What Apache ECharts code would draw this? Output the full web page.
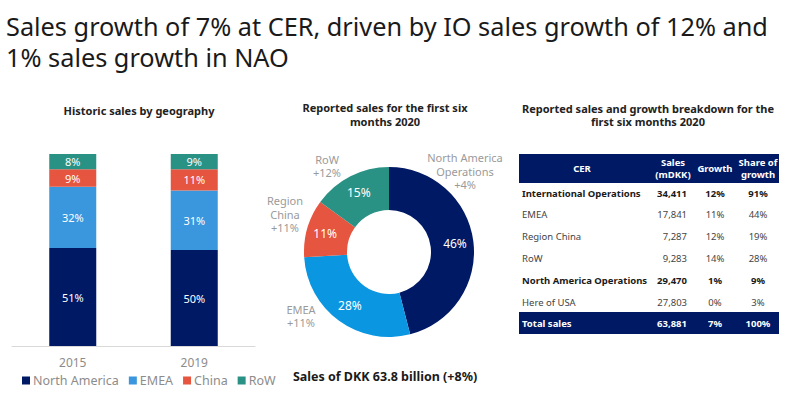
<!DOCTYPE html>
<html>
<head>
<meta charset="utf-8">
<script src="https://cdn.jsdelivr.net/npm/echarts@6/dist/echarts.min.js"></script>
<style>
  html, body { margin: 0; padding: 0; background: #fff; }
  #main { width: 800px; height: 398px; }
</style>
</head>
<body>
<div id="main"></div>
<script>
// historic sales (stacked bars)
var years = ['2015', '2019'];
var barNorthAmerica = [51, 50];
var barEmea = [32, 31];
var barChina = [9, 11];
var barRow = [8, 9];

// first six months 2020 (donut)
var pieNames = ['North America\nOperations', 'EMEA', 'Region\nChina', 'RoW'];
var pieShares = [46, 28, 11, 15];
var pieGrowth = [4, 11, 11, 12];

// breakdown table
var tableHeader = ['CER', 'Sales\n(mDKK)', 'Growth', 'Share of\ngrowth'];
var rowLabels = ['International Operations', 'EMEA', 'Region China', 'RoW',
  'North America Operations', 'Here of USA', 'Total sales'];
var rowSales = [34411, 17841, 7287, 9283, 29470, 27803, 63881];
var rowGrowth = [12, 11, 12, 14, 1, 0, 7];
var rowShare = [91, 44, 19, 28, 9, 3, 100];
var rowBold = [true, false, false, false, true, false, true];

var NAVY = '#001965';
var FONT = '"Noto Sans", "Open Sans", sans-serif';

var chart = echarts.init(document.getElementById('main'), null, { renderer: 'svg' });

function txt(text, x, y, size, opts) {
  opts = opts || {};
  return {
    type: 'text', x: x, y: y, silent: true,
    style: {
      text: text,
      fill: opts.color || '#222',
      fontSize: size,
      fontWeight: opts.bold ? 'bold' : 'normal',
      fontFamily: FONT,
      lineHeight: opts.lh || Math.round(size * 1.25),
      textAlign: opts.align || 'center',
      textVerticalAlign: 'middle'
    }
  };
}

var graphics = [
  txt('Sales growth of 7% at CER, driven by IO sales growth of 12% and\n1% sales growth in NAO', 6, 41, 25.3, { align: 'left', lh: 31, color: '#1a1a1a' }),
  txt('Historic sales by geography', 139, 110, 11, { bold: true }),
  txt('Reported sales for the first six\nmonths 2020', 385, 114.5, 11, { bold: true, lh: 13.5 }),
  txt('Reported sales and growth breakdown for the\nfirst six months 2020', 648, 115, 11, { bold: true, lh: 13.5 }),
  txt('Sales of DKK 63.8 billion (+8%)', 385, 376, 12.5, { bold: true, color: '#1a1a1a' })
];

// table header band
graphics.push({ type: 'rect', silent: true, shape: { x: 519, y: 154, width: 260, height: 29 }, style: { fill: NAVY } });
var colX = [582, 673, 715, 758];
tableHeader.forEach(function (h, i) {
  graphics.push(txt(h, colX[i], 168.5, 9.5, { bold: true, color: '#fff', lh: 12 }));
});

rowLabels.forEach(function (label, i) {
  var last = i === rowLabels.length - 1;
  var y = last ? 323 : 193 + i * 21.8;
  var color = last ? '#fff' : (rowBold[i] ? '#1a1a1a' : '#444');
  if (last) {
    graphics.push({ type: 'rect', silent: true, shape: { x: 519, y: 312, width: 260, height: 22 }, style: { fill: NAVY } });
  }
  var o = { bold: rowBold[i], color: color };
  graphics.push(txt(label, 522, y, 9.5, Object.assign({ align: 'left' }, o)));
  graphics.push(txt(rowSales[i].toLocaleString('en-US'), 687, y, 9.5, Object.assign({ align: 'right' }, o)));
  graphics.push(txt(rowGrowth[i] + '%', 715, y, 9.5, o));
  graphics.push(txt(rowShare[i] + '%', 758, y, 9.5, o));
});

function barSeries(name, data, color) {
  return {
    name: name, type: 'bar', stack: 'geo', data: data, barWidth: 47,
    itemStyle: { color: color },
    label: { show: true, position: 'inside', color: '#fff', fontSize: 11, fontFamily: FONT, formatter: '{c}%' }
  };
}

var pieColors = [NAVY, '#0a96e1', '#e5553f', '#2a9185'];
var outerLabelPos = [[465, 171], [301, 316], [285, 214], [327, 166]];

chart.setOption({
  animation: false,
  textStyle: { fontFamily: FONT },
  graphic: graphics,
  legend: {
    data: ['North America', 'EMEA', 'China', 'RoW'],
    left: 17, top: 369,
    icon: 'rect', itemWidth: 8, itemHeight: 8, itemGap: 10,
    textStyle: { color: '#8c8c8c', fontSize: 12.5, fontFamily: FONT, padding: [0, 0, 0, -2] }
  },
  grid: { left: 12, width: 243, top: 154, bottom: 52 },
  xAxis: {
    type: 'category', data: years,
    axisTick: { show: false },
    axisLine: { lineStyle: { color: '#d9d9d9' } },
    axisLabel: { color: '#8c8c8c', fontSize: 12, margin: 10 }
  },
  yAxis: { type: 'value', min: 0, max: 100, show: false },
  series: [
    barSeries('North America', barNorthAmerica, NAVY),
    barSeries('EMEA', barEmea, '#3a97dd'),
    barSeries('China', barChina, '#e5553f'),
    barSeries('RoW', barRow, '#2a9185'),
    {
      type: 'pie', center: [389, 252], radius: [42, 85], startAngle: 90, clockwise: true,
      silent: true,
      data: pieShares.map(function (v, i) { return { name: pieNames[i], value: v, itemStyle: { color: pieColors[i] } }; }),
      label: { show: true, position: 'inside', color: '#fff', fontSize: 12, fontFamily: FONT, formatter: '{c}%' },
      labelLine: { show: false }
    },
    {
      type: 'pie', center: [389, 252], radius: [42, 85], startAngle: 90, clockwise: true,
      silent: true, z: 1,
      data: pieShares.map(function (v, i) { return { name: pieNames[i], value: v, itemStyle: { color: 'rgba(0,0,0,0)' } }; }),
      label: {
        show: true, position: 'outside', color: '#9a9a9a', fontSize: 11, lineHeight: 13.5,
        fontFamily: FONT, align: 'center',
        formatter: function (p) { return p.name + '\n+' + pieGrowth[p.dataIndex] + '%'; }
      },
      labelLine: { show: false },
      labelLayout: function (p) {
        var pos = outerLabelPos[p.dataIndex];
        return { x: pos[0], y: pos[1], align: 'center', verticalAlign: 'middle' };
      }
    }
  ]
});
</script>
</body>
</html>
